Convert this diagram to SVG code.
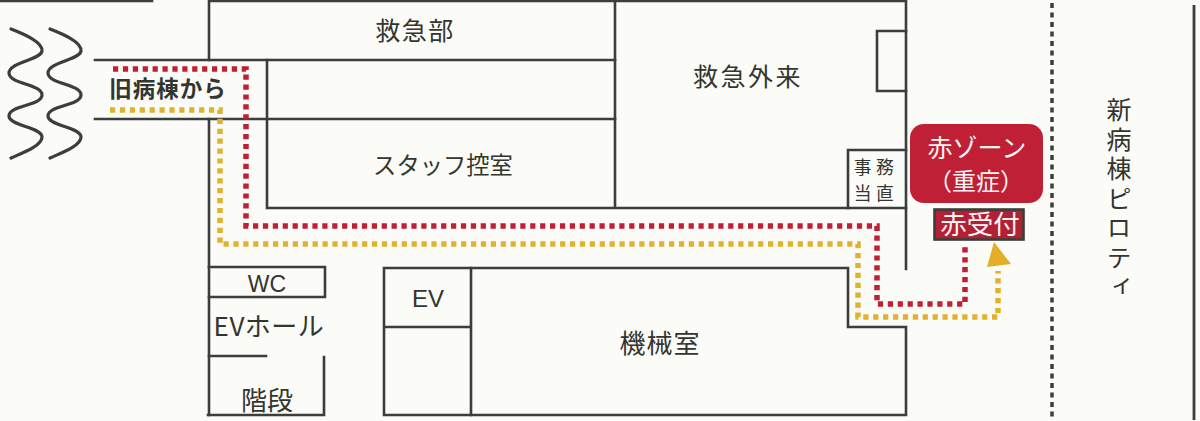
<svg xmlns="http://www.w3.org/2000/svg" width="1200" height="421" viewBox="0 0 1200 421">
<style>
.w{fill:none;stroke:#3b3e3a;stroke-width:2.6;stroke-linecap:square;stroke-linejoin:miter}
.t{font-family:"Noto Sans CJK JP","Noto Sans",sans-serif;fill:#33352f;text-anchor:middle}
.l{font-family:"Liberation Sans",sans-serif;fill:#33352f;text-anchor:middle}
.r{fill:none;stroke:#c21f33;stroke-width:5.5;stroke-dasharray:5.200 4.700}
.y{fill:none;stroke:#e2b12e;stroke-width:5.5;stroke-dasharray:5.200 4.700}
.wh{fill:#fdf6f2}
</style>
<rect width="1200" height="421" fill="#fbfbf8"/>
<g id="walls">
<path class="w" d="M1 1H152"/>
<path class="w" d="M209 60V1H906V269"/>
<path class="w" d="M95 60H615M95 119H615"/>
<path class="w" d="M615 1V208M267 60V208H906"/>
<path class="w" d="M209 119V415"/>
<path class="w" d="M906 31H877V91H906"/>
</g>
<g id="waves" fill="none" stroke="#3b3e3a" stroke-width="3.200" stroke-linecap="round">
<path d="M11 29C24 34 43 42 42 51C41 60 9 62 9 73C9 84 42 84 42 95C42 106 9 105 9 116C9 126 42 127 42 137C42 146 22 153 11 158"/>
<path d="M50 29C63 34 82 42 81 51C80 60 48 62 48 73C48 84 81 84 81 95C81 106 48 105 48 116C48 126 81 127 81 137C81 146 61 153 50 158"/>
</g>
<g id="kyukyubu"><text class="t" x="415" y="40" font-size="25" letter-spacing="1.500">救急部</text></g>
<g id="kyukyugairai"><text class="t" x="748" y="86" font-size="25" letter-spacing="2.500">救急外来</text></g>
<g id="staff"><text class="t" x="443" y="174" font-size="23.300">スタッフ控室</text></g>
<g id="jimu">
<path class="w" d="M906 150H848V208"/>
<text class="t" x="876" y="174" font-size="17.800" letter-spacing="4.500">事務</text>
<text class="t" x="876" y="200" font-size="17.800" letter-spacing="4.500">当直</text>
</g>
<g id="old-ward"><text class="t" x="168" y="97" font-size="22.500" font-weight="700" letter-spacing="1">旧病棟から</text></g>
<g id="wc">
<path class="w" d="M209 267H325V297H209"/>
<text class="l" x="267" y="292" font-size="23">WC</text>
</g>
<g id="ev-hall">
<path class="w" d="M209 356H266"/>
<text class="t" x="269" y="336" font-size="26" letter-spacing="0.500">EVホール</text>
</g>
<g id="stairs">
<path class="w" d="M324 357V415H208"/>
<text class="t" x="267" y="410" font-size="26">階段</text>
</g>
<g id="ev">
<path class="w" d="M471 268H384V415H471ZM384 327H471"/>
<text class="l" x="428" y="307" font-size="24">EV</text>
</g>
<g id="machine">
<path class="w" d="M471 268H848V327H906V415H471"/>
<text class="t" x="660" y="353" font-size="26" letter-spacing="1">機械室</text>
</g>
<g id="red-zone">
<rect x="910" y="124" width="133" height="79" rx="14" fill="#bf2036"/>
<text class="t wh" x="977" y="157" font-size="25" style="fill:#fdf6f2">赤ゾーン</text>
<text class="t wh" x="976" y="190" font-size="24" style="fill:#fdf6f2">（重症）</text>
</g>
<g id="red-reception">
<rect x="934.500" y="209.500" width="89" height="30" fill="#b31f33" stroke="#3b3e3a" stroke-width="2.600"/>
<text class="t wh" x="980" y="234" font-size="26.500" style="fill:#fdf6f2">赤受付</text>
</g>
<g id="piloti-line" fill="none" stroke="#3b3e3a">
<path d="M1052 3V420" stroke-width="3.500" stroke-dasharray="5 4.500"/>
<path d="M1194 5V420" stroke-width="2.800"/>
</g>
<g id="piloti"><text class="t" x="1119" y="97" font-size="25" letter-spacing="4.500" style="writing-mode:vertical-rl;text-anchor:start">新病棟ピロティ</text></g>
<g id="connectors">
<path class="r" d="M113 69H246V226H877V304H965V247"/>
<path class="y" d="M110 110H220V244H858V317H998V271"/>
<polygon points="994,242 1011,264 987,267" fill="#e4ae2a"/>
</g>
</svg>
